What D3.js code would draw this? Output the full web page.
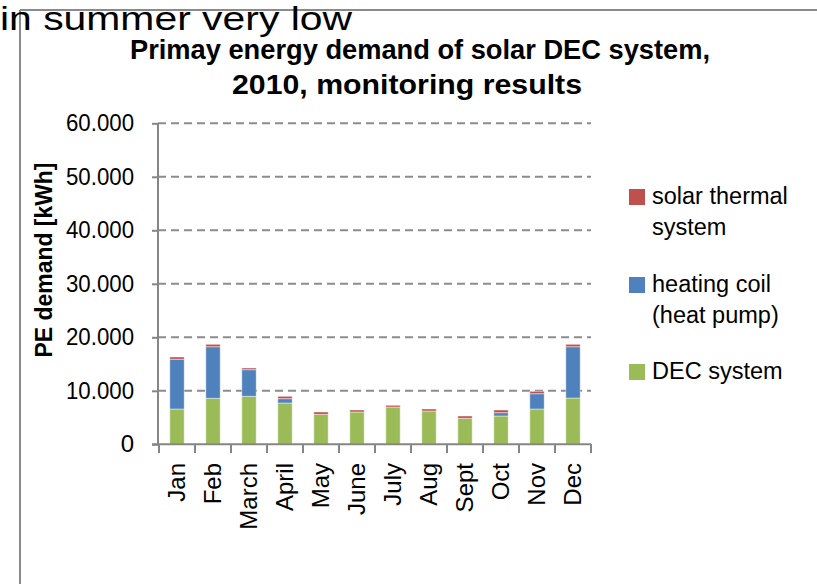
<!DOCTYPE html>
<html><head><meta charset="utf-8">
<script src="https://cdn.jsdelivr.net/npm/d3@7"></script>
<style>body{margin:0;background:#fff}svg{display:block}</style>
</head><body>
<script>
const months = ["Jan","Feb","March","April","May","June","July","Aug","Sept","Oct","Nov","Dec"];
const decSystem = [6600, 8600, 8970, 7720, 5600, 6040, 6970, 6220, 4860, 5290, 6600, 8650];
const heatingCoil = [9300, 9640, 4980, 810, 0, 0, 0, 0, 0, 620, 2860, 9590];
const solarThermal = [420, 450, 310, 440, 440, 370, 320, 380, 430, 500, 440, 450];
const yTicks = [0, 10000, 20000, 30000, 40000, 50000, 60000];
const seriesNames = ["DEC system", "heating coil", "solar thermal system"];
const legendLines = [["solar thermal","system"],["heating coil","(heat pump)"],["DEC system"]];
const colors = {"DEC system":"#9BBB59","heating coil":"#4F81BD","solar thermal system":"#C0504D"};

const W = 817, H = 584;
const svg = d3.select("body").append("svg").attr("width", W).attr("height", H);
const font = "'Liberation Sans', Arial, sans-serif";

// frame lines
svg.append("line").attr("x1",20).attr("x2",20).attr("y1",10).attr("y2",H).attr("stroke","#8a8a8a").attr("stroke-width",2);
svg.append("line").attr("x1",20).attr("x2",W).attr("y1",10).attr("y2",10).attr("stroke","#8a8a8a").attr("stroke-width",2);

// overlay text
svg.append("text").attr("x",0).attr("y",30).attr("font-family",font).attr("font-size",33)
  .attr("textLength",352).attr("lengthAdjust","spacingAndGlyphs").text("in summer very low");

// titles
svg.append("text").attr("x",420).attr("y",59).attr("text-anchor","middle").attr("font-family",font)
  .attr("font-weight","bold").attr("font-size",28).attr("textLength",580).attr("lengthAdjust","spacingAndGlyphs")
  .text("Primay energy demand of solar DEC system,");
svg.append("text").attr("x",407).attr("y",94).attr("text-anchor","middle").attr("font-family",font)
  .attr("font-weight","bold").attr("font-size",28).attr("textLength",350).attr("lengthAdjust","spacingAndGlyphs")
  .text("2010, monitoring results");

const x = d3.scaleBand().domain(months).range([159, 591]).paddingInner(0.6).paddingOuter(0.3);
const y = d3.scaleLinear().domain([0, 60000]).range([444.3, 123.3]);

// gridlines
svg.append("g").selectAll("line").data(yTicks.filter(d=>d>0)).join("line")
  .attr("x1",158).attr("x2",591).attr("y1",d=>y(d)).attr("y2",d=>y(d))
  .attr("stroke","#8c8c8c").attr("stroke-width",2).attr("stroke-dasharray","8,5");

// stacked data
const table = months.map((m,i)=>({month:m,"DEC system":decSystem[i],"heating coil":heatingCoil[i],"solar thermal system":solarThermal[i]}));
const stack = d3.stack().keys(seriesNames)(table);
svg.append("g").selectAll("g").data(stack).join("g")
  .attr("fill", d=>colors[d.key])
  .selectAll("rect").data(d=>d).join("rect")
  .attr("x", d=>x(d.data.month)).attr("width", x.bandwidth())
  .attr("y", d=>y(d[1])).attr("height", d=>Math.max(0, y(d[0])-y(d[1])))
  .attr("stroke", "rgba(255,255,255,0.45)").attr("stroke-width", 1);

// y axis
const yAxis = d3.axisLeft(y).tickValues(yTicks).tickSize(6).tickPadding(18)
  .tickFormat(d=> d===0 ? "0" : d3.format(",")(d).replace(/,/g,"."));
const ga = svg.append("g").attr("transform","translate(158,0)").call(yAxis);
ga.select(".domain").attr("stroke","#868686").attr("stroke-width",2).attr("d","M0,123.3V445");
ga.selectAll(".tick line").attr("stroke","#868686").attr("stroke-width",2);
ga.selectAll("text").attr("font-family",font).attr("font-size",24).attr("fill","#000")
  .attr("textLength", d=> d===0 ? null : 68).attr("lengthAdjust","spacingAndGlyphs");

// x axis
const gx = svg.append("g");
gx.append("line").attr("x1",152).attr("x2",591).attr("y1",444.3).attr("y2",444.3).attr("stroke","#868686").attr("stroke-width",2);
const bounds = months.map((m,i)=> 159 + i*x.step()).concat([591]);
gx.selectAll("line.tk").data(bounds).join("line").attr("class","tk")
  .attr("x1",d=>d).attr("x2",d=>d).attr("y1",444).attr("y2",453).attr("stroke","#868686").attr("stroke-width",2);
gx.selectAll("text").data(months).join("text")
  .attr("transform", d=>`translate(${x(d)+x.bandwidth()/2+8},463) rotate(-90)`)
  .attr("text-anchor","end").attr("font-family",font).attr("font-size",24).text(d=>d);

// y title
svg.append("text").attr("transform","translate(52,260) rotate(-90)").attr("text-anchor","middle")
  .attr("font-family",font).attr("font-weight","bold").attr("font-size",23)
  .attr("textLength",195).attr("lengthAdjust","spacingAndGlyphs").text("PE demand [kWh]");

// legend
const legKeys = ["solar thermal system","heating coil","DEC system"];
const legY = [189, 277, 364];
const leg = svg.append("g");
legKeys.forEach((k,i)=>{
  leg.append("rect").attr("x",629).attr("y",legY[i]).attr("width",16).attr("height",16).attr("fill",colors[k]);
  legendLines[i].forEach((t,j)=>{
    leg.append("text").attr("x",652).attr("y",legY[i]+15+j*31).attr("font-family",font).attr("font-size",23.5).text(t);
  });
});
</script>
</body></html>
